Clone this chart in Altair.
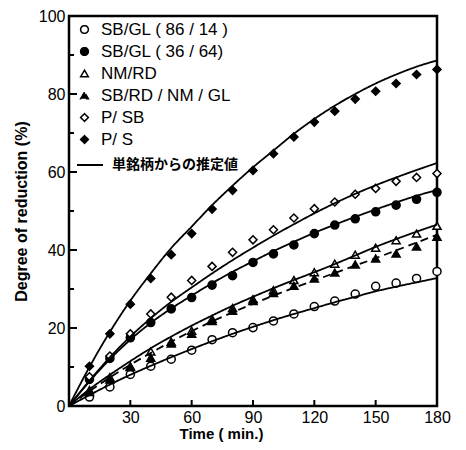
import altair as alt
import pandas as pd

# ---------------- data ----------------
times = [10, 20, 30, 40, 50, 60, 70, 80, 90, 100, 110, 120, 130, 140, 150, 160, 170, 180]
fit_times = [0] + times

series_names = ["SB/GL ( 86 / 14 )", "SB/GL ( 36 / 64)", "NM/RD", "SB/RD / NM / GL", "P/ SB", "P/ S"]
series_shapes = ["circle", "circle", "triangle-up", "triangle-up", "diamond", "diamond"]
series_fills = ["white", "black", "white", "black", "white", "black"]
series_strokes = ["black", "black", "black", "black", "black", "black"]

sbgl86 = [2.3, 4.9, 8.1, 10.2, 12.0, 14.3, 17.0, 18.8, 20.1, 21.8, 23.6, 25.5, 26.9, 28.7, 30.7, 31.5, 32.7, 34.5]
sbgl36 = [6.8, 12.2, 17.5, 21.4, 24.9, 27.8, 31.0, 33.4, 36.8, 39.0, 41.3, 44.2, 46.4, 48.0, 49.8, 51.5, 53.0, 54.8]
nmrd = [4.1, 7.4, 10.2, 14.0, 16.5, 19.3, 22.3, 25.1, 27.4, 29.7, 32.3, 34.3, 36.5, 38.8, 40.6, 42.5, 44.2, 46.2]
sbrdnmgl = [3.6, 6.8, 10.0, 12.4, 16.0, 18.5, 21.8, 24.4, 26.9, 29.0, 30.8, 32.7, 34.2, 36.3, 37.8, 39.1, 40.9, 43.4]
psb = [7.5, 12.8, 18.5, 23.6, 27.9, 32.2, 35.8, 39.4, 42.6, 45.2, 48.2, 50.6, 52.3, 54.3, 55.8, 57.6, 58.6, 59.6]
ps = [10.2, 18.5, 26.1, 32.7, 38.8, 44.2, 50.5, 55.3, 60.4, 64.7, 69.0, 72.8, 75.6, 78.7, 80.7, 82.7, 85.0, 86.3]

# estimated curves (from single brands)
fit_sbgl86 = [0, 2.8, 5.5, 8.0, 10.3, 12.5, 14.6, 16.6, 18.5, 20.3, 22.0, 23.6, 25.1, 26.6, 28.0, 29.4, 30.6, 31.7, 32.8]
fit_sbgl36 = [0, 6.3, 12.0, 17.0, 21.3, 25.0, 28.3, 31.5, 34.4, 37.1, 39.7, 42.1, 44.4, 46.5, 48.5, 50.4, 52.2, 53.9, 55.4]
fit_nmrd = [0, 4.3, 8.0, 11.5, 14.8, 17.8, 20.6, 23.2, 25.7, 28.0, 30.2, 32.3, 34.3, 36.4, 38.6, 40.8, 42.8, 44.7, 46.5]
fit_sbrdnmgl = [0, 3.8, 7.3, 10.6, 13.6, 16.5, 19.2, 21.7, 24.0, 26.2, 28.3, 30.3, 32.2, 34.1, 36.0, 37.9, 39.9, 41.9, 43.9]
fit_psb = [0, 6.5, 12.5, 17.8, 22.5, 26.7, 30.4, 34.0, 37.4, 40.6, 43.7, 46.6, 49.4, 52.0, 54.4, 56.6, 58.6, 60.5, 62.3]
fit_ps = [0, 10.0, 19.0, 27.0, 34.0, 40.5, 46.0, 51.5, 56.5, 61.2, 65.5, 69.8, 73.6, 77.0, 80.0, 82.7, 85.0, 87.0, 88.6]
fit_dashes = [[1, 0], [1, 0], [1, 0], [8, 5], [1, 0], [1, 0]]

x_labels = [30, 60, 90, 120, 150, 180]
x_ticks = [30, 60, 90, 120, 150]
y_labels = [0, 20, 40, 60, 80, 100]
y_minor = [10, 30, 50, 70, 90]

line_label = "単銘柄からの推定値"
x_title = "Time  ( min.)"
y_title = "Degree of reduction (%)"

# ---------------- tables ----------------
point_rows = []
for name, vals in zip(series_names, [sbgl86, sbgl36, nmrd, sbrdnmgl, psb, ps]):
    for t, v in zip(times, vals):
        point_rows.append({"time": t, "value": v, "series": name})
points_df = pd.DataFrame(point_rows)

fit_rows = []
for name, vals in zip(series_names, [fit_sbgl86, fit_sbgl36, fit_nmrd, fit_sbrdnmgl, fit_psb, fit_ps]):
    for t, v in zip(fit_times, vals):
        fit_rows.append({"time": t, "value": v, "fit": name})
fit_df = pd.DataFrame(fit_rows)

NUM_FONT = "Liberation Sans"
PLOT_H = 390

xscale = alt.Scale(domain=[0, 180], nice=False, zero=False)
yscale = alt.Scale(domain=[0, 100], nice=False)

x_axis = alt.Axis(values=x_labels, title=x_title, ticks=False, domain=False, grid=False,
                  labelFont=NUM_FONT, labelFontSize=16, labelColor="black", labelPadding=3,
                  labelFlush=False, titleFont="Liberation Sans", titleFontSize=15,
                  titleFontWeight="bold", titleColor="black", titleX=152, titleY=32,
                  titleBaseline="alphabetic")
y_axis = alt.Axis(values=y_labels, title=y_title, ticks=False, domain=False, grid=False,
                  labelFont=NUM_FONT, labelFontSize=16, labelColor="black", labelPadding=4,
                  labelFlush=False, titleFont="Liberation Sans", titleFontSize=16,
                  titleFontWeight="bold", titleColor="black", titleX=-40, titleY=195)

legend = alt.Legend(title=None, orient="none", legendX=7, legendY=5,
                    labelFont="Liberation Sans", labelFontSize=17, labelColor="black",
                    symbolSize=60, symbolStrokeColor="black", symbolStrokeWidth=1.5,
                    symbolOpacity=1, rowPadding=4, labelOffset=8, padding=0)

lines = alt.Chart(fit_df).mark_line(color="black", strokeWidth=1.8, interpolate="monotone").encode(
    x=alt.X("time:Q", scale=xscale, axis=x_axis),
    y=alt.Y("value:Q", scale=yscale, axis=y_axis),
    detail="fit:N",
    strokeDash=alt.StrokeDash("fit:N", scale=alt.Scale(domain=series_names, range=fit_dashes), legend=None),
)

points = alt.Chart(points_df).mark_point(filled=True, strokeWidth=1.5, size=65, opacity=1).encode(
    x=alt.X("time:Q", scale=xscale, axis=x_axis),
    y=alt.Y("value:Q", scale=yscale, axis=y_axis),
    shape=alt.Shape("series:N", scale=alt.Scale(domain=series_names, range=series_shapes), legend=legend),
    fill=alt.Fill("series:N", scale=alt.Scale(domain=series_names, range=series_fills), legend=legend),
    stroke=alt.Stroke("series:N", scale=alt.Scale(domain=series_names, range=series_strokes), legend=legend),
)

ytick_major = alt.Chart(pd.DataFrame({"value": y_labels})).mark_rule(color="black", strokeWidth=2).encode(
    y=alt.Y("value:Q", scale=yscale, axis=y_axis), x=alt.value(0), x2=alt.value(8))
ytick_minor = alt.Chart(pd.DataFrame({"value": y_minor})).mark_rule(color="black", strokeWidth=2).encode(
    y=alt.Y("value:Q", scale=yscale, axis=y_axis), x=alt.value(0), x2=alt.value(5))
xtick = alt.Chart(pd.DataFrame({"time": x_ticks})).mark_rule(color="black", strokeWidth=2).encode(
    x=alt.X("time:Q", scale=xscale, axis=x_axis), y=alt.value(PLOT_H), y2=alt.value(PLOT_H - 6))

legend_rule = alt.Chart(pd.DataFrame({"a": [0]})).mark_rule(color="black", strokeWidth=2).encode(
    x=alt.value(8), x2=alt.value(34), y=alt.value(149))
legend_text = alt.Chart(pd.DataFrame({"t": [line_label]})).mark_text(
    align="left", baseline="middle", font="Noto Sans CJK JP", fontSize=14, fontWeight="bold", color="black"
).encode(x=alt.value(43), y=alt.value(149), text="t:N")

chart = alt.layer(points, lines, ytick_major, ytick_minor, xtick, legend_rule, legend_text).properties(
    width=368, height=PLOT_H,
    autosize=alt.AutoSizeParams(type="none"),
    padding={"left": 61, "top": 8, "right": 20, "bottom": 36},
    background="white",
).configure_view(stroke="black", strokeWidth=2.5)

chart.save("out.html", embed_options={"renderer": "svg", "actions": False})
